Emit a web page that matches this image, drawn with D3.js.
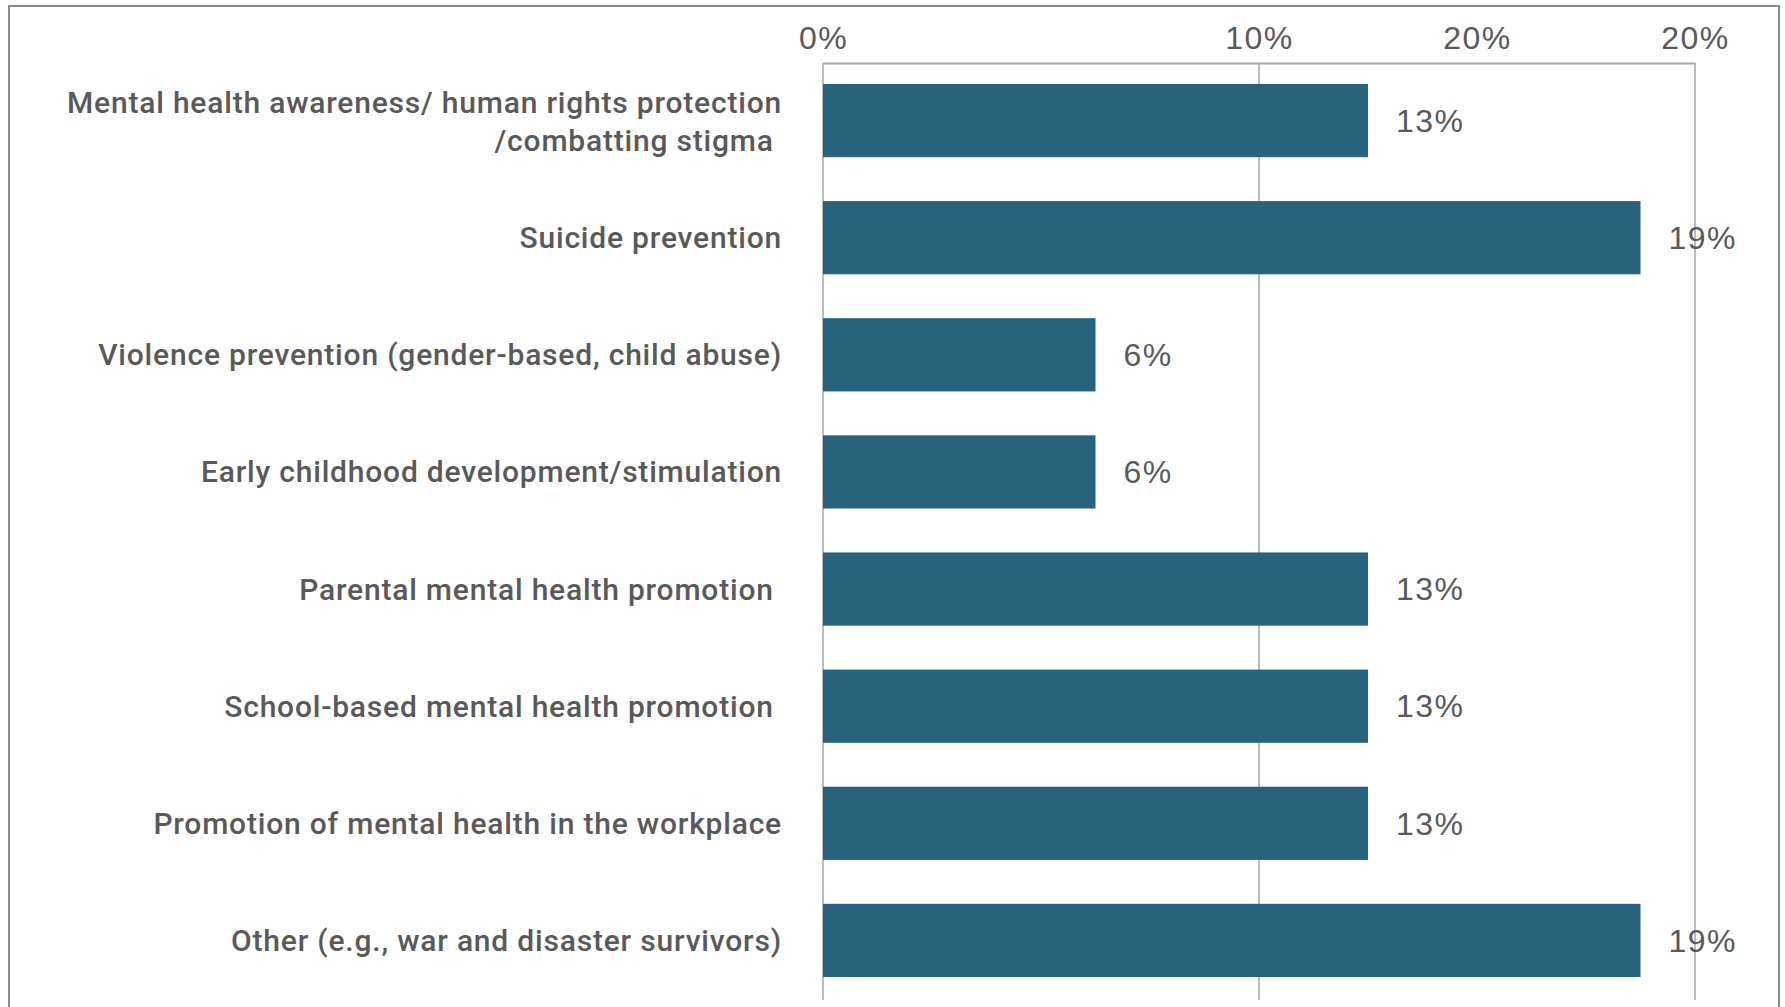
<!DOCTYPE html>
<html>
<head>
<meta charset="utf-8">
<script src="https://cdn.jsdelivr.net/npm/d3@7"></script>
<style>
  body { margin: 0; background: #fff; }
  text { font-family: Roboto, 'Liberation Sans', sans-serif; }
</style>
</head>
<body>
<div class="chart-container"></div>
<script>
// share of 16 responses per area
const categories = [
  ['Mental health awareness/ human rights protection', '/combatting stigma '],
  ['Suicide prevention'],
  ['Violence prevention (gender-based, child abuse)'],
  ['Early childhood development/stimulation'],
  ['Parental mental health promotion '],
  ['School-based mental health promotion '],
  ['Promotion of mental health in the workplace'],
  ['Other (e.g., war and disaster survivors)'],
]
const values = [0.125, 0.1875, 0.0625, 0.0625, 0.125, 0.125, 0.125, 0.1875]
const tickValues = [0, 0.1, 0.15, 0.2]
const tickLabels = ['0%', '10%', '20%', '20%']
const gridValues = [0.1, 0.2]

const width = 1785
const height = 1007
const textColor = '#595959'
const barColor = '#28627b'
const numFont = "'Liberation Sans', Arial, sans-serif"

const svg = d3
  .select('.chart-container')
  .append('svg')
  .attr('width', width)
  .attr('height', height)

// outer frame
svg
  .append('rect')
  .attr('x', 9)
  .attr('y', 6)
  .attr('width', 1770)
  .attr('height', 1010)
  .attr('fill', 'none')
  .attr('stroke', '#8c8c8c')
  .attr('stroke-width', 2)

const x = d3.scaleLinear().domain([0, 0.2]).range([823, 1695])
const y = d3
  .scaleBand()
  .domain(d3.range(categories.length))
  .range([62, 999])
  .paddingInner(0.375)
  .paddingOuter(0.1875)

// gridlines
svg
  .append('g')
  .selectAll('line')
  .data(gridValues)
  .enter()
  .append('line')
  .attr('x1', (d) => x(d))
  .attr('x2', (d) => x(d))
  .attr('y1', 63)
  .attr('y2', 1000)
  .attr('stroke', '#a6a6a6')
  .attr('stroke-width', 1.5)

// top axis
const axis = svg
  .append('g')
  .attr('transform', 'translate(0,63)')
  .call(
    d3
      .axisTop(x)
      .tickValues(tickValues)
      .tickFormat((d, i) => tickLabels[i])
      .tickSize(0)
      .tickPadding(14)
  )
axis.select('.domain').attr('stroke', '#a6a6a6').attr('stroke-width', 2)
axis
  .selectAll('text')
  .attr('fill', textColor)
  .attr('font-size', 32)
  .attr('letter-spacing', 1.5)
  .style('font-family', numFont)

// vertical baseline at 0
svg
  .append('line')
  .attr('x1', x(0))
  .attr('x2', x(0))
  .attr('y1', 63)
  .attr('y2', 1000)
  .attr('stroke', '#a6a6a6')
  .attr('stroke-width', 1.5)

svg
  .append('g')
  .selectAll('rect')
  .data(values)
  .enter()
  .append('rect')
  .attr('x', x(0))
  .attr('y', (d, i) => y(i))
  .attr('width', (d) => x(d) - x(0))
  .attr('height', y.bandwidth())
  .attr('fill', barColor)

const fmt = d3.format('.0%')
svg
  .append('g')
  .selectAll('text')
  .data(values)
  .enter()
  .append('text')
  .attr('x', (d) => x(d) + 28)
  .attr('y', (d, i) => y(i) + y.bandwidth() / 2)
  .attr('dy', '0.35em')
  .attr('fill', textColor)
  .attr('font-size', 32)
  .attr('letter-spacing', 1.5)
  .style('font-family', numFont)
  .text((d) => fmt(d))

const labels = svg
  .append('g')
  .selectAll('text')
  .data(categories)
  .enter()
  .append('text')
  .attr('x', 782)
  .attr('y', (d, i) => y(i) + y.bandwidth() / 2)
  .attr('text-anchor', 'end')
  .attr('fill', textColor)
  .attr('font-size', 30)
  .attr('font-weight', 500)
  .attr('letter-spacing', 0.8)
  .style('white-space', 'pre')

labels.each(function (d) {
  const el = d3.select(this)
  const offset = (d.length - 1) * 0.6
  d.forEach((line, j) => {
    el.append('tspan')
      .attr('x', 782)
      .attr('dy', j === 0 ? 0.35 - offset + 'em' : '1.25em')
      .text(line)
  })
})
</script>
</body>
</html>
